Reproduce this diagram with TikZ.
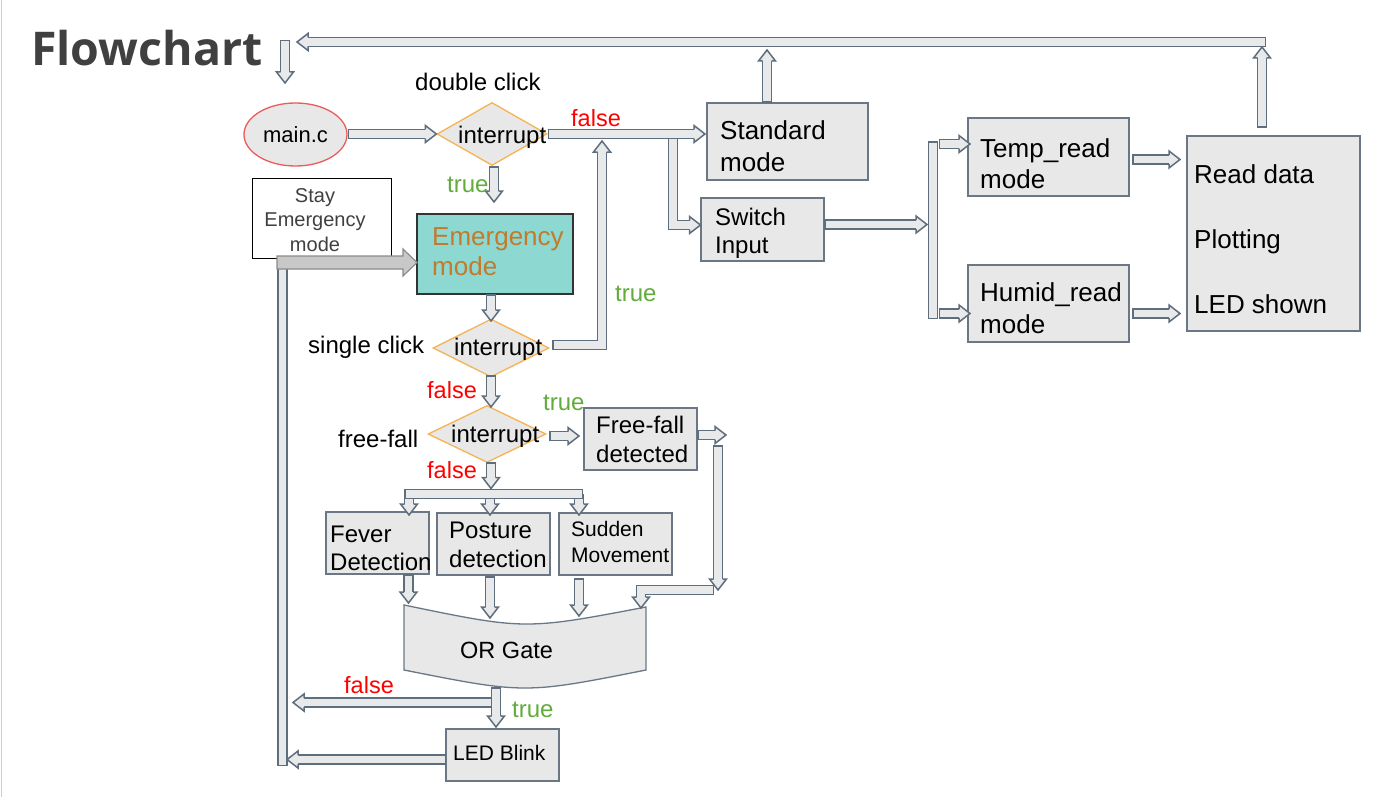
\documentclass[tikz,border=0pt]{standalone}
\usepackage{fontspec}
\setmainfont{Liberation Sans}
\newfontfamily\titlefont{Open Sans}
\usetikzlibrary{shapes.geometric,calc}

\definecolor{edgec}{HTML}{5F6E7D}
\definecolor{pipefill}{HTML}{E8E9EB}
\definecolor{boxfill}{HTML}{E8E8E8}
\definecolor{boxedge}{HTML}{6B7785}
\definecolor{diaedge}{HTML}{F6B352}
\definecolor{ovaledge}{HTML}{EE5A5A}
\definecolor{emerfill}{HTML}{8ED8D2}
\definecolor{emertext}{HTML}{C27A2C}
\definecolor{falsered}{HTML}{FF0000}
\definecolor{truegreen}{HTML}{62AC3C}
\definecolor{titlegray}{HTML}{404040}
\definecolor{bigfill}{HTML}{C8C8C8}
\definecolor{bigedge}{HTML}{8C8C8C}

\tikzset{
  fsz/.style n args={2}{font=\fontsize{#1}{#2}\selectfont},
  box/.style={draw=boxedge, fill=boxfill, line width=1.3pt, inner sep=0pt},
  dia/.style={diamond, draw=diaedge, fill=boxfill, line width=1.3pt, inner sep=0pt},
  lbl/.style={anchor=base west, inner sep=0pt},
  pipe outer/.style={draw=edgec, line width=10.5pt, line join=miter},
  pipe inner/.style={draw=pipefill, line width=7.5pt, line join=miter, shorten <=1.5pt},
  arrow head/.style={draw=edgec, fill=pipefill, line width=1.5pt, line join=miter},
}

\newcommand\flowpath[3]{%
  \coordinate (faP) at #2;
  \coordinate (faE) at #3;
  \coordinate (faB) at ($(faE)!11pt!(faP)$);
  \coordinate (faC) at ($(faE)!10pt!(faP)$);
  \draw[pipe outer] #1 -- (faC);
  \draw[pipe inner] #1 -- (faC);
  \filldraw[arrow head] ($(faB)!4.5pt!90:(faE)$) -- ($(faB)!8.5pt!90:(faE)$) -- (faE)
     -- ($(faB)!8.5pt!-90:(faE)$) -- ($(faB)!4.5pt!-90:(faE)$);
}
\newcommand\flowarrow[2]{\flowpath{#1}{#1}{#2}}
\newcommand\flowbar[1]{\draw[pipe outer] #1; \draw[pipe inner, shorten >=1.5pt] #1;}

\begin{document}
\begin{tikzpicture}[x=1pt, y=-1pt]
\useasboundingbox (0,0) rectangle (1391,797);
\fill[white] (0,0) rectangle (1391,797);
\draw[line width=1pt, draw=black!20] (1.5,0) -- (1.5,797);

% title
\node[lbl, font=\titlefont\bfseries\fontsize{46.5}{46.5}\selectfont, text=titlegray] (title) at (31,66) {Flowchart};

% shapes
\node[ellipse, draw=ovaledge, fill=boxfill, line width=1.3pt, inner sep=0pt,
      minimum width=103pt, minimum height=63pt, fsz={22}{22}] (main) at (295.5,134.5) {main.c};
\node[dia, minimum width=110pt, minimum height=63pt] (d1) at (492,134) {};
\node[dia, minimum width=116pt, minimum height=58pt] (d2) at (491,348) {};
\node[dia, minimum width=118pt, minimum height=57pt] (d3) at (487,434) {};

\node[box, minimum width=161pt, minimum height=77pt] (std) at (787.5,141.5) {};
\node[box, minimum width=123pt, minimum height=63pt] (sw) at (762.5,229.5) {};
\node[box, minimum width=161pt, minimum height=78pt] (temp) at (1048.5,157) {};
\node[box, minimum width=161pt, minimum height=77pt] (humid) at (1048.5,303.5) {};
\node[box, minimum width=173pt, minimum height=195pt] (read) at (1273.5,233.5) {};
\node[draw=black, fill=white, line width=0.8pt, inner sep=0pt,
      minimum width=139pt, minimum height=80pt] (stay) at (321.5,218) {};
\node[draw=black!80, fill=emerfill, line width=1.2pt, inner sep=0pt,
      minimum width=156pt, minimum height=80pt] (emerg) at (495,254) {};
\node[box, minimum width=113pt, minimum height=62pt] (ffd) at (640.5,439) {};
\node[box, minimum width=103pt, minimum height=62pt] (fever) at (377.5,543) {};
\node[box, minimum width=113pt, minimum height=62pt] (posture) at (493.5,544) {};
\node[box, minimum width=113pt, minimum height=62pt] (sudden) at (615.5,544) {};
\node[box, minimum width=113pt, minimum height=52pt] (led) at (502.5,755) {};

% OR gate
\filldraw[fill=boxfill, draw=boxedge, line width=1.3pt]
  (404,605) .. controls (525,630) .. (646,607) -- (646,670)
  .. controls (525,694) .. (404,670) -- cycle;
\coordinate (orfever) at (408.5,603);
\coordinate (orposture) at (490,618);
\coordinate (orsudden) at (579,616);
\coordinate (orff) at (641,608);

% ---- connectors ----
% top loop
\flowarrow{(1262,128)}{(1262,47)}
\flowarrow{(1266,42)}{(297,42)}
\flowarrow{(285,40)}{(285,83)}
\flowarrow{(767,103)}{(767,50)}

% main -> d1
\flowarrow{(main.east |- d1.west)}{(d1.west)}
% branch to switch input
\flowpath{(673,134) -- (673,225)}{(673,225)}{(700.5,225)}
% d1 false -> standard
\flowarrow{(d1.east)}{(705,134)}
% d1 true -> emergency
\flowarrow{(494,166)}{(494,202)}

% switch -> bus
\flowarrow{(824,224.5)}{(927,224.5)}
\flowbar{(933,141) -- (933,319)}
\flowarrow{(938.5,144)}{(970,144)}
\flowarrow{(938.5,313.5)}{(970,313.5)}
\flowarrow{(1132,159.5)}{(1180,159.5)}
\flowarrow{(1132,313.5)}{(1180,313.5)}

% emergency -> d2
\flowarrow{(491,294)}{(491,321)}
% d2 true -> back up
\flowpath{(552,345) -- (602,345)}{(602,345)}{(602,141)}
% d2 false -> d3
\flowarrow{(491,375)}{(491,407)}
% d3 true -> free-fall
\flowarrow{(549,436)}{(579,436)}
% free-fall -> OR gate
\flowarrow{(697,435)}{(726,435)}
\flowpath{(714,590) -- (641,590)}{(641,590)}{(orff)}
\flowarrow{(718,445)}{(718,590)}

% d3 false -> distribution
\flowarrow{(409,494)}{(409,515)}
\flowarrow{(490,494)}{(490,515)}
\flowarrow{(579,494)}{(579,515)}
\flowbar{(404,494) -- (583,494)}
\flowarrow{(491,462)}{(491,488.5)}

% detections -> OR
\flowarrow{(408.5,574)}{(orfever)}
\flowarrow{(490,576)}{(orposture)}
\flowarrow{(579,578)}{(orsudden)}

% left return
\flowbar{(282.5,262) -- (282.5,766)}
\filldraw[fill=bigfill, draw=bigedge, line width=1.2pt]
  (277,256) -- (403,256) -- (403,249) -- (417,262.5) -- (403,276) -- (403,269) -- (277,269) -- cycle;

% OR -> LED / false
\flowarrow{(496,702.5)}{(293,702.5)}
\flowarrow{(496,687)}{(496,727)}
\flowarrow{(446,759.5)}{(287,759.5)}

% ---- texts ----
\node[lbl, fsz={24}{24}] (dblclick) at (415,91) {double click};
\node[lbl, fsz={23.5}{24}, text=falsered] (f1) at (571,127) {false};
\node[lbl, fsz={24}{24}, text=truegreen] (t1) at (447,192) {true};
\node[lbl, fsz={24}{24}] (sclick) at (308,353) {single click};
\node[lbl, fsz={24}{24}, text=truegreen] (t2) at (615,301) {true};
\node[lbl, fsz={23.5}{24}, text=falsered] (f2) at (427,398) {false};
\node[lbl, fsz={24}{24}, text=truegreen] (t3) at (543,410) {true};
\node[lbl, fsz={24}{24}] (ffall) at (338,447) {free-fall};
\node[lbl, fsz={23.5}{24}, text=falsered] (f3) at (427,478) {false};
\node[lbl, fsz={23.5}{24}, text=falsered] (f4) at (344,693) {false};
\node[lbl, fsz={24}{24}, text=truegreen] (t4) at (512,717) {true};

\node[lbl, fsz={24}{24}] (d1t) at (458,143) {interrupt};
\node[lbl, fsz={24}{24}] (d2t) at (454,355) {interrupt};
\node[lbl, fsz={24}{24}] (d3t) at (451,442) {interrupt};

% multi-line texts: anchor base = baseline of the last line
\node[lbl, align=left, fsz={26}{32}] (stdt) at (720,171) {Standard\\mode};
\node[lbl, align=left, fsz={24}{28}] (swt) at (715,253) {Switch\\Input};
\node[lbl, align=left, fsz={26}{31}] (tempt) at (980,188) {Temp\_read\\mode};
\node[lbl, align=left, fsz={26}{32}] (humidt) at (980,333) {Humid\_read\\mode};
\node[lbl, align=left, fsz={26}{65}] (readt) at (1194,313) {Read data\\Plotting\\LED shown};
\node[anchor=base, inner sep=0pt, align=center, fsz={20}{24.5}, text=titlegray] (stayt) at (315,251) {Stay\\Emergency\\mode};
\node[lbl, align=left, fsz={26}{30}, text=emertext] (emergt) at (432,275) {Emergency\\mode};
\node[lbl, align=left, fsz={24}{29}] (ffdt) at (596,462) {Free-fall\\detected};
\node[lbl, align=left, fsz={24}{28}] (fevert) at (330,570) {Fever\\Detection};
\node[lbl, align=left, fsz={24}{29}] (posturet) at (449,567) {Posture\\detection};
\node[lbl, align=left, fsz={21}{26}] (suddent) at (571,562) {Sudden\\Movement};
\node[lbl, fsz={23.5}{24}] (ortext) at (460,658) {OR Gate};
\node[lbl, fsz={21}{24}] (ledt) at (453,760) {LED Blink};
\end{tikzpicture}
\end{document}
